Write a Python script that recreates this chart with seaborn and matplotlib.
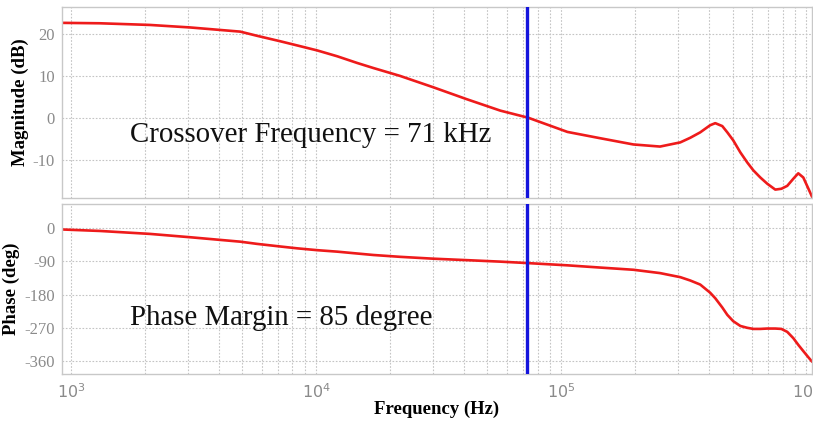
import matplotlib
matplotlib.use("Agg")
import matplotlib.pyplot as plt
import matplotlib.ticker as mticker
import seaborn as sns
import pandas as pd

# ---- data ----
freq_hz = [919, 1310, 2100, 3060, 4900, 5740, 7130, 8360, 10100, 12190,
           14700, 17100, 22000, 30000, 41300, 56400, 73300, 106000, 144000,
           197000, 253000, 306000, 336000, 369000, 405000, 425000, 454000,
           476000, 503000, 538000, 574000, 608000, 649000, 693000, 747000,
           791000, 836000, 885000, 927000, 972000, 1020000, 1057000]
magnitude_db = [22.7, 22.6, 22.2, 21.6, 20.6, 19.6, 18.3, 17.3, 16.1, 14.7,
                13.1, 11.9, 10.0, 7.3, 4.4, 1.7, 0.0, -3.4, -4.9,
                -6.4, -6.9, -5.9, -4.8, -3.5, -1.8, -1.3, -2.0,
                -3.5, -5.4, -8.3, -10.7, -12.6, -14.3, -15.8, -17.2,
                -17.0, -16.3, -14.6, -13.3, -14.3, -17.0, -19.0]
phase_deg = [-4, -8, -16, -25, -37, -43, -50, -55, -60, -64,
             -69, -73, -78, -83, -87, -91, -95, -101, -107,
             -113, -122, -133, -142, -153, -175, -190, -215,
             -235, -252, -265, -270, -273, -273, -272, -272,
             -273, -281, -298, -316, -333, -350, -362]
crossover_hz = 72500
mag_ticks = [20, 10, 0, -10]
phase_ticks = [0, -90, -180, -270, -360]
crossover_text = "Crossover Frequency = 71 kHz"
margin_text = "Phase Margin = 85 degree"

df = pd.DataFrame({"f": freq_hz, "mag": magnitude_db, "phase": phase_deg})

sns.set_theme(style="white")
plt.rcParams["font.family"] = ["Liberation Serif", "DejaVu Serif"]

fig = plt.figure(figsize=(8.13, 4.23), dpi=100)
ax1 = fig.add_axes([0.0763, 0.532, 0.9225, 0.4515])
ax2 = fig.add_axes([0.0763, 0.1158, 0.9225, 0.402], sharex=ax1)

red = "#ee1b1b"
blue = "#1414dc"
gridc = "#c4c4c4"

sns.lineplot(data=df, x="f", y="mag", ax=ax1, color=red, lw=1.9)
sns.lineplot(data=df, x="f", y="phase", ax=ax2, color=red, lw=1.9)

for ax in (ax1, ax2):
    ax.set_xscale("log")
    ax.set_xlim(918, 1.055e6)
    ax.axvline(crossover_hz, color=blue, lw=2.4, zorder=5)
    ax.grid(True, which="major", axis="both", color=gridc, ls=(0, (1.5, 1.5)), lw=0.8)
    ax.grid(True, which="minor", axis="x", color=gridc, ls=(0, (1.5, 1.5)), lw=0.8)
    ax.xaxis.set_minor_locator(mticker.LogLocator(base=10, subs=range(2, 10)))
    ax.tick_params(axis="both", which="both", length=0, colors="#8a8a8a", labelsize=12)
    for s in ax.spines.values():
        s.set_color("#c8c8c8")
        s.set_linewidth(1.0)
    ax.set_xlabel("")

ax1.set_ylim(-19.2, 26.5)
ax1.set_yticks(mag_ticks)
ax1.set_yticklabels([str(t) for t in mag_ticks])
ax2.set_ylim(-395, 65)
ax2.set_yticks(phase_ticks)
ax2.set_yticklabels([str(t) for t in phase_ticks])
ax1.tick_params(axis="x", labelbottom=False)
ax1.tick_params(axis="y", pad=5)
ax2.tick_params(axis="y", pad=5)
ax2.tick_params(axis="x", pad=6)
for lab in ax2.get_xticklabels():
    lab.set_fontfamily("DejaVu Sans")
    lab.set_fontsize(11.5)

ax1.set_ylabel("Magnitude (dB)", fontsize=13.5, fontweight="bold", color="black", labelpad=3)
ax2.set_ylabel("Phase (deg)", fontsize=13.5, fontweight="bold", color="black", labelpad=3)
ax2.set_xlabel("Frequency (Hz)", fontsize=13.5, fontweight="bold", color="black", labelpad=0)

ax1.text(0.0907, 0.33, crossover_text, transform=ax1.transAxes, fontsize=20.8,
         ha="left", va="center", color="#111111")
ax2.text(0.0907, 0.33, margin_text, transform=ax2.transAxes, fontsize=20.8,
         ha="left", va="center", color="#111111")

fig.savefig("out.png", dpi=100, facecolor="white")
